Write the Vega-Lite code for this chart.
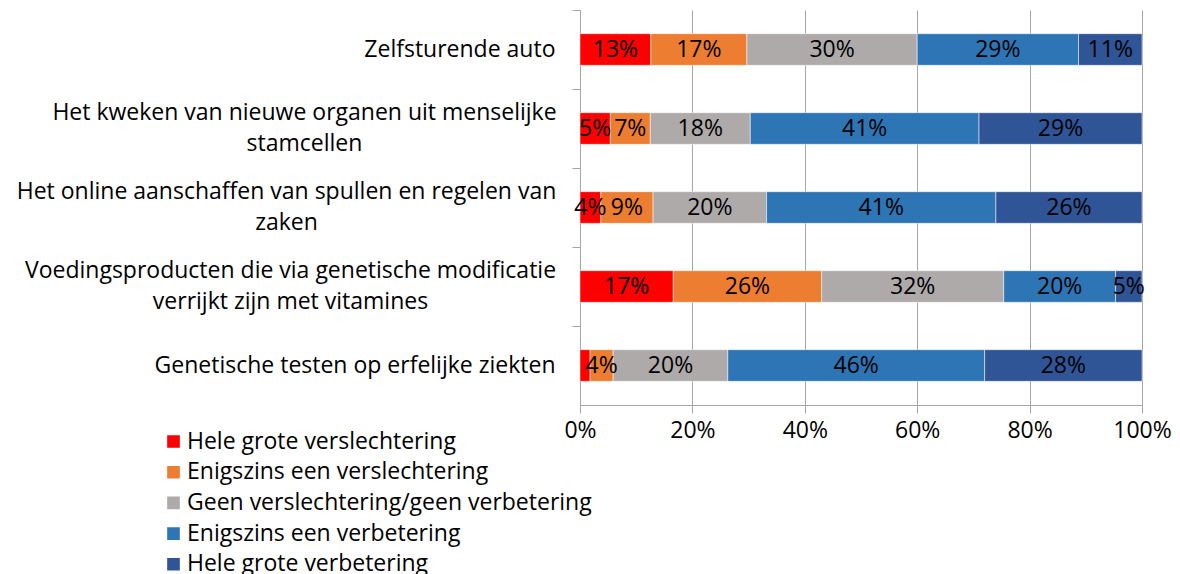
{
  "$schema": "https://vega.github.io/schema/vega-lite/v6.json",
  "width": 562,
  "height": 395,
  "autosize": {"type": "none"},
  "padding": {"left": 580, "top": 10, "right": 38, "bottom": 169},
  "background": "white",
  "config": {
    "view": {"stroke": null},
    "font": "Open Sans",
    "axis": {"labelFont": "Open Sans", "labelColor": "black", "labelFontSize": 23}
  },
  "data": {
    "values": [
      {"cat": "Zelfsturende auto", "resp": "Hele grote verslechtering", "value": 0.126},
      {"cat": "Zelfsturende auto", "resp": "Enigszins een verslechtering", "value": 0.171},
      {"cat": "Zelfsturende auto", "resp": "Geen verslechtering/geen verbetering", "value": 0.303},
      {"cat": "Zelfsturende auto", "resp": "Enigszins een verbetering", "value": 0.287},
      {"cat": "Zelfsturende auto", "resp": "Hele grote verbetering", "value": 0.113},
      {"cat": "Het kweken van nieuwe organen uit menselijke|stamcellen", "resp": "Hele grote verslechtering", "value": 0.054},
      {"cat": "Het kweken van nieuwe organen uit menselijke|stamcellen", "resp": "Enigszins een verslechtering", "value": 0.071},
      {"cat": "Het kweken van nieuwe organen uit menselijke|stamcellen", "resp": "Geen verslechtering/geen verbetering", "value": 0.178},
      {"cat": "Het kweken van nieuwe organen uit menselijke|stamcellen", "resp": "Enigszins een verbetering", "value": 0.407},
      {"cat": "Het kweken van nieuwe organen uit menselijke|stamcellen", "resp": "Hele grote verbetering", "value": 0.290},
      {"cat": "Het online aanschaffen van spullen en regelen van|zaken", "resp": "Hele grote verslechtering", "value": 0.037},
      {"cat": "Het online aanschaffen van spullen en regelen van|zaken", "resp": "Enigszins een verslechtering", "value": 0.093},
      {"cat": "Het online aanschaffen van spullen en regelen van|zaken", "resp": "Geen verslechtering/geen verbetering", "value": 0.202},
      {"cat": "Het online aanschaffen van spullen en regelen van|zaken", "resp": "Enigszins een verbetering", "value": 0.408},
      {"cat": "Het online aanschaffen van spullen en regelen van|zaken", "resp": "Hele grote verbetering", "value": 0.260},
      {"cat": "Voedingsproducten die via genetische modificatie|verrijkt zijn met vitamines", "resp": "Hele grote verslechtering", "value": 0.166},
      {"cat": "Voedingsproducten die via genetische modificatie|verrijkt zijn met vitamines", "resp": "Enigszins een verslechtering", "value": 0.264},
      {"cat": "Voedingsproducten die via genetische modificatie|verrijkt zijn met vitamines", "resp": "Geen verslechtering/geen verbetering", "value": 0.324},
      {"cat": "Voedingsproducten die via genetische modificatie|verrijkt zijn met vitamines", "resp": "Enigszins een verbetering", "value": 0.199},
      {"cat": "Voedingsproducten die via genetische modificatie|verrijkt zijn met vitamines", "resp": "Hele grote verbetering", "value": 0.047},
      {"cat": "Genetische testen op erfelijke ziekten", "resp": "Hele grote verslechtering", "value": 0.018},
      {"cat": "Genetische testen op erfelijke ziekten", "resp": "Enigszins een verslechtering", "value": 0.041},
      {"cat": "Genetische testen op erfelijke ziekten", "resp": "Geen verslechtering/geen verbetering", "value": 0.204},
      {"cat": "Genetische testen op erfelijke ziekten", "resp": "Enigszins een verbetering", "value": 0.457},
      {"cat": "Genetische testen op erfelijke ziekten", "resp": "Hele grote verbetering", "value": 0.280}
    ]
  },
  "transform": [
    {"calculate": "indexof(['Hele grote verslechtering','Enigszins een verslechtering','Geen verslechtering/geen verbetering','Enigszins een verbetering','Hele grote verbetering'], datum.resp)", "as": "k"},
    {"stack": "value", "groupby": ["cat"], "sort": [{"field": "k", "order": "ascending"}], "as": ["v0", "v1"]},
    {"calculate": "(datum.v0 + datum.v1) / 2", "as": "mid"}
  ],
  "encoding": {
    "y": {
      "field": "cat",
      "type": "nominal",
      "sort": [
        "Zelfsturende auto",
        "Het kweken van nieuwe organen uit menselijke|stamcellen",
        "Het online aanschaffen van spullen en regelen van|zaken",
        "Voedingsproducten die via genetische modificatie|verrijkt zijn met vitamines",
        "Genetische testen op erfelijke ziekten"
      ],
      "scale": {"paddingInner": 0, "paddingOuter": 0},
      "axis": {
        "title": null,
        "bandPosition": 0,
        "ticks": true,
        "tickSize": 8,
        "tickColor": "#a6a6a6",
        "domainColor": "#a6a6a6",
        "labelLimit": 700,
        "labelLineHeight": 31,
        "labelBaseline": "middle",
        "labelExpr": "split(datum.label, '|')",
        "labelAlign": {"condition": {"test": "indexof(datum.value, '|') >= 0", "value": "center"}, "value": "right"},
        "labelOffset": {"condition": {"test": "indexof(datum.value, '|') >= 0", "value": -15.5}, "value": 0},
        "labelPadding": {
          "condition": [
            {"test": "datum.value == 'Het kweken van nieuwe organen uit menselijke|stamcellen'", "value": 268},
            {"test": "datum.value == 'Het online aanschaffen van spullen en regelen van|zaken'", "value": 286},
            {"test": "datum.value == 'Voedingsproducten die via genetische modificatie|verrijkt zijn met vitamines'", "value": 282}
          ],
          "value": 17
        }
      }
    }
  },
  "layer": [
    {
      "mark": {"type": "bar", "stroke": "white", "strokeWidth": 0.5, "height": {"band": 0.4}},
      "encoding": {
        "x": {
          "field": "v0",
          "type": "quantitative",
          "scale": {"domain": [0, 1], "nice": false},
          "axis": {
            "title": null,
            "format": ".0%",
            "values": [0, 0.2, 0.4, 0.6, 0.8, 1],
            "grid": true,
            "gridColor": "#a6a6a6",
            "domainColor": "#a6a6a6",
            "tickColor": "#a6a6a6",
            "tickSize": 8,
            "labelPadding": 6,
            "labelFlush": false
          }
        },
        "x2": {"field": "v1"},
        "color": {
          "field": "resp",
          "type": "nominal",
          "scale": {
            "domain": ["Hele grote verslechtering", "Enigszins een verslechtering", "Geen verslechtering/geen verbetering", "Enigszins een verbetering", "Hele grote verbetering"],
            "range": ["#ff0000", "#ed7d31", "#aeaaaa", "#2e75b6", "#2f5597"]
          },
          "legend": {
            "title": null,
            "orient": "none",
            "legendX": -418,
            "legendY": 420,
            "symbolType": "square",
            "symbolSize": 200,
            "labelFontSize": 23,
            "labelFont": "Open Sans",
            "labelColor": "black",
            "labelLimit": 700,
            "rowPadding": 6.7,
            "labelOffset": 2
          }
        }
      }
    },
    {
      "transform": [{"filter": "datum.value >= 0.03"}],
      "mark": {"type": "text", "fontSize": 23, "font": "Open Sans", "color": "black", "align": "center", "baseline": "middle"},
      "encoding": {
        "x": {"field": "mid", "type": "quantitative"},
        "text": {"field": "value", "type": "quantitative", "format": ".0%"}
      }
    }
  ]
}
